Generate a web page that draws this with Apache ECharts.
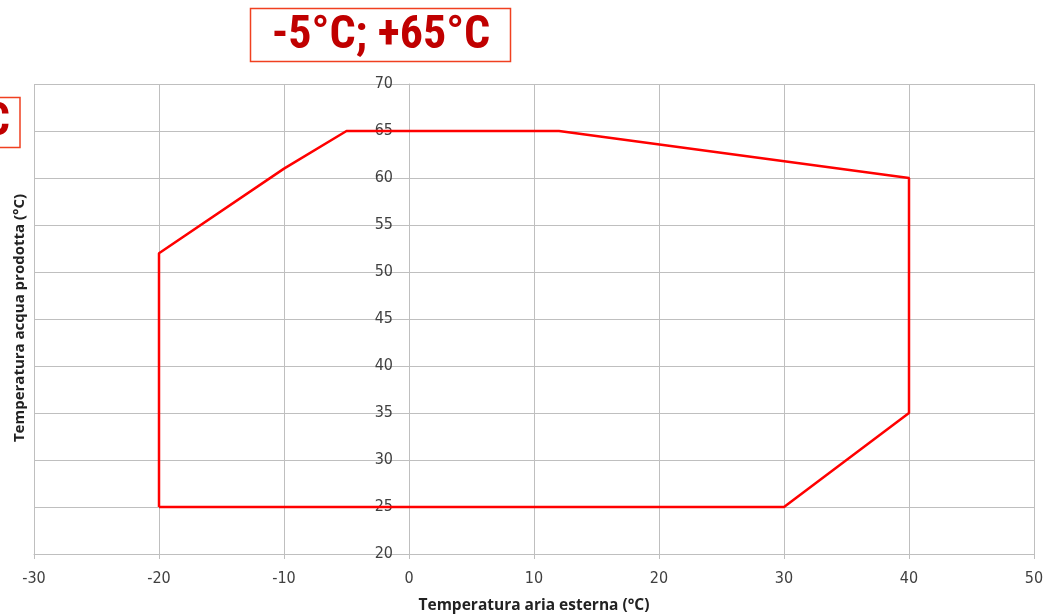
<!DOCTYPE html>
<html>
<head>
<meta charset="utf-8">
<script src="https://cdn.jsdelivr.net/npm/echarts@6/dist/echarts.min.js"></script>
<style>html,body{margin:0;padding:0;background:#fff}#c{width:1047px;height:616px}</style>
</head>
<body>
<div id="c"></div>
<script>
const titleText = '-5°C; +65°C';
const leftBoxText = '°C';
const xName = 'Temperatura aria esterna (°C)';
const yName = 'Temperatura acqua prodotta (°C)';
const xTicks = [-30, -20, -10, 0, 10, 20, 30, 40, 50];
const yTicks = [20, 25, 30, 35, 40, 45, 50, 55, 60, 65, 70];
const envelopeX = [-20, -20, -10, -5, 12, 40, 40, 30, -20];
const envelopeY = [25, 52, 61, 65, 65, 60, 35, 25, 25];

const chart = echarts.init(document.getElementById('c'));
const labelFont = "'Liberation Sans Narrow', 'DejaVu Sans Condensed', 'Open Sans', sans-serif";
const gridLeft = 34, gridRight = 13;
const plotW = 1047 - gridLeft - gridRight;
// y axis crosses at x = 0
const yAxisOffset = -plotW * (0 - xTicks[0]) / (xTicks[xTicks.length - 1] - xTicks[0]);
chart.setOption({
  animation: false,
  backgroundColor: '#fff',
  grid: { left: gridLeft, right: gridRight, top: 84, bottom: 62, show: false, outerBoundsMode: 'none' },
  xAxis: {
    type: 'value', min: xTicks[0], max: xTicks[xTicks.length - 1], interval: 10,
    name: xName, nameLocation: 'middle', nameGap: 44,
    nameTextStyle: { fontFamily: "'Open Sans', sans-serif", fontWeight: 'bold', fontSize: 15.5, color: '#222' },
    axisLine: { show: true, onZero: false, lineStyle: { color: '#bfbfbf', width: 1 } },
    axisTick: { show: true, length: 5, lineStyle: { color: '#bfbfbf' } },
    axisLabel: { margin: 17, fontFamily: labelFont, fontSize: 16, color: '#404040' },
    splitLine: { show: true, lineStyle: { color: '#bfbfbf', width: 1 } }
  },
  yAxis: {
    type: 'value', min: yTicks[0], max: yTicks[yTicks.length - 1], interval: 5,
    position: 'left', offset: yAxisOffset,
    axisLine: { show: true, onZero: false, lineStyle: { color: '#bfbfbf', width: 1 } },
    axisTick: { show: false },
    axisLabel: { margin: 16, fontFamily: labelFont, fontSize: 16, color: '#404040' },
    splitLine: { show: true, lineStyle: { color: '#bfbfbf', width: 1 } }
  },
  series: [{
    type: 'line',
    data: envelopeX.map((x, i) => [x, envelopeY[i]]),
    symbol: 'none',
    lineStyle: { color: '#ff0000', width: 2.5 },
    z: 5
  }],
  graphic: [
    { type: 'line', shape: { x1: 34, y1: 84.5, x2: 1034, y2: 84.5 }, style: { stroke: '#bfbfbf', lineWidth: 1 }, silent: true },
    { type: 'line', shape: { x1: 1034.5, y1: 84, x2: 1034.5, y2: 554 }, style: { stroke: '#bfbfbf', lineWidth: 1 }, silent: true },
    { type: 'text', rotation: Math.PI / 2, x: 20, y: 318,
      style: { text: yName, fontFamily: "'Open Sans', sans-serif", fontWeight: 'bold', fontSize: 15, fill: '#222', align: 'center', verticalAlign: 'middle' },
      silent: true },
    { type: 'rect', shape: { x: 250.5, y: 8.5, width: 260, height: 53 }, style: { fill: '#fff', stroke: '#f04020', lineWidth: 1.5 } },
    { type: 'text', x: 381, y: 36,
      style: { text: titleText, fontFamily: "'Liberation Sans Narrow', 'Roboto Condensed', Roboto, sans-serif", fontWeight: 'bold', fontSize: 46, fill: '#c00000', align: 'center', verticalAlign: 'middle' } },
    { type: 'rect', shape: { x: -10, y: 97.5, width: 30, height: 50 }, style: { fill: '#fff', stroke: '#f04020', lineWidth: 1.5 } },
    { type: 'text', x: 10, y: 123,
      style: { text: leftBoxText, fontFamily: "'Liberation Sans Narrow', 'Roboto Condensed', Roboto, sans-serif", fontWeight: 'bold', fontSize: 46, fill: '#c00000', align: 'right', verticalAlign: 'middle' } }
  ]
});
</script>
</body>
</html>
